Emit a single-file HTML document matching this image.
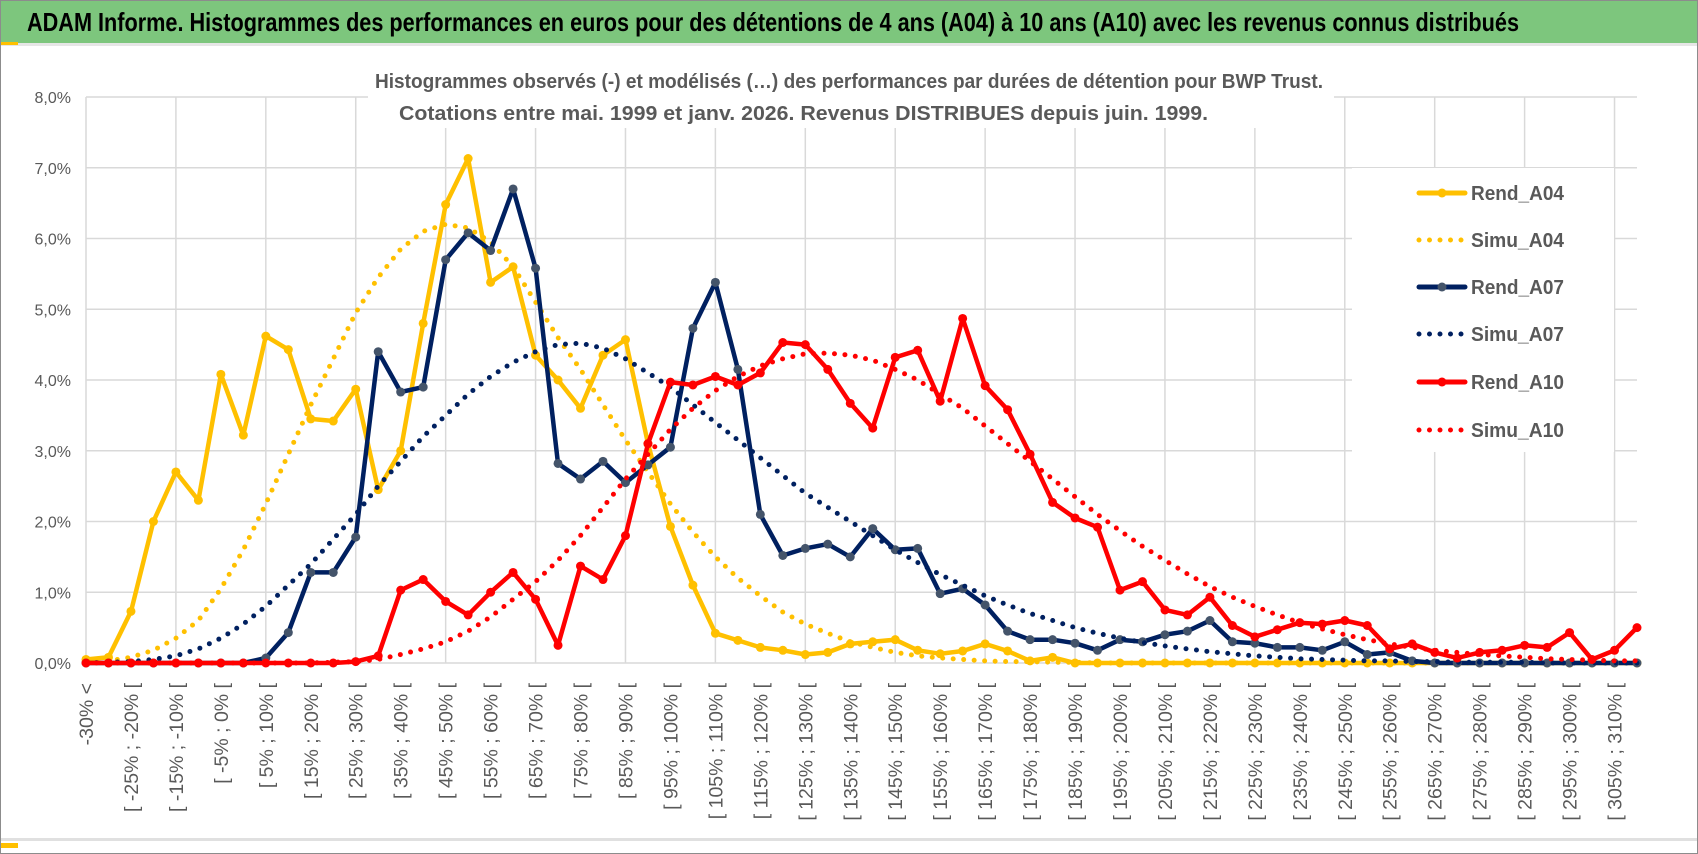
<!DOCTYPE html>
<html><head><meta charset="utf-8"><style>
html,body{margin:0;padding:0;background:#fff;}
svg{display:block;font-family:"Liberation Sans Narrow","Liberation Sans",sans-serif;}
</style></head><body>
<svg id="chart" width="1698" height="854" viewBox="0 0 1698 854" xmlns="http://www.w3.org/2000/svg">
<rect x="0.5" y="0.5" width="1697" height="853" fill="#fff" stroke="#8c8c8c"/>
<rect x="1" y="1" width="1696" height="42" fill="#7dc67d"/>
<rect x="1" y="43" width="1696" height="3" fill="#e6e6e6"/>
<rect x="1" y="42" width="17" height="3" fill="#ffc000"/>
<text x="27" y="31" font-size="26" font-weight="bold" fill="#000" textLength="1492" lengthAdjust="spacingAndGlyphs">ADAM Informe. Histogrammes des performances en euros pour des détentions de 4 ans (A04) à 10 ans (A10) avec les revenus connus distribués</text>
<g id="grid"></g>
<rect x="368" y="62" width="966" height="66" fill="#fff"/>
<text x="375" y="88" font-size="20" font-weight="bold" fill="#595959" textLength="948" lengthAdjust="spacingAndGlyphs">Histogrammes observés (-) et modélisés (…) des performances par durées de détention pour BWP Trust.</text>
<text x="399" y="120" font-size="20" font-weight="bold" fill="#595959" textLength="809" lengthAdjust="spacingAndGlyphs">Cotations entre mai. 1999 et janv. 2026. Revenus DISTRIBUES depuis juin. 1999.</text>
<g id="ylabels"></g>
<g id="xlabels"></g>
<g id="series"></g>
<g id="legend"></g>
<rect x="1" y="838" width="1696" height="3" fill="#e0e0e0"/>
<rect x="1" y="843" width="17" height="5" fill="#ffc000"/>
</svg>
<script>
const categories = ["-30% <","[ -30% ; -25% [","[ -25% ; -20% [","[ -20% ; -15% [","[ -15% ; -10% [","[ -10% ; -5% [","[ -5% ; 0% [","[ 0% ; 5% [","[ 5% ; 10% [","[ 10% ; 15% [","[ 15% ; 20% [","[ 20% ; 25% [","[ 25% ; 30% [","[ 30% ; 35% [","[ 35% ; 40% [","[ 40% ; 45% [","[ 45% ; 50% [","[ 50% ; 55% [","[ 55% ; 60% [","[ 60% ; 65% [","[ 65% ; 70% [","[ 70% ; 75% [","[ 75% ; 80% [","[ 80% ; 85% [","[ 85% ; 90% [","[ 90% ; 95% [","[ 95% ; 100% [","[ 100% ; 105% [","[ 105% ; 110% [","[ 110% ; 115% [","[ 115% ; 120% [","[ 120% ; 125% [","[ 125% ; 130% [","[ 130% ; 135% [","[ 135% ; 140% [","[ 140% ; 145% [","[ 145% ; 150% [","[ 150% ; 155% [","[ 155% ; 160% [","[ 160% ; 165% [","[ 165% ; 170% [","[ 170% ; 175% [","[ 175% ; 180% [","[ 180% ; 185% [","[ 185% ; 190% [","[ 190% ; 195% [","[ 195% ; 200% [","[ 200% ; 205% [","[ 205% ; 210% [","[ 210% ; 215% [","[ 215% ; 220% [","[ 220% ; 225% [","[ 225% ; 230% [","[ 230% ; 235% [","[ 235% ; 240% [","[ 240% ; 245% [","[ 245% ; 250% [","[ 250% ; 255% [","[ 255% ; 260% [","[ 260% ; 265% [","[ 265% ; 270% [","[ 270% ; 275% [","[ 275% ; 280% [","[ 280% ; 285% [","[ 285% ; 290% [","[ 290% ; 295% [","[ 295% ; 300% [","[ 300% ; 305% [","[ 305% ; 310% [","[ 310% ; 315% ["];
const yTicks = [0,1,2,3,4,5,6,7,8];
const yTickLabels = ["0,0%","1,0%","2,0%","3,0%","4,0%","5,0%","6,0%","7,0%","8,0%"];
const rendA04 = [0.05,0.08,0.73,2.0,2.7,2.3,4.08,3.22,4.62,4.43,3.45,3.42,3.87,2.45,3.0,4.8,6.48,7.13,5.38,5.6,4.35,4.0,3.6,4.35,4.57,3.1,1.93,1.1,0.42,0.32,0.22,0.18,0.12,0.15,0.27,0.3,0.33,0.18,0.13,0.17,0.27,0.17,0.03,0.08,0,0,0,0,0,0,0,0,0,0,0,0,0,0,0,0,0,0,0,0,0,0,0,0,0,0];
const simuA04 = [0.01,0.03,0.08,0.18,0.35,0.6,1.05,1.6,2.25,2.95,3.65,4.3,4.95,5.45,5.85,6.1,6.2,6.15,5.95,5.6,5.1,4.6,4.15,3.65,3.15,2.7,2.25,1.85,1.5,1.2,0.95,0.72,0.55,0.42,0.3,0.22,0.15,0.1,0.07,0.05,0.03,0.02,0.02,0.01,0.01,0,0,0,0,0,0,0,0,0,0,0,0,0,0,0,0,0,0,0,0,0,0,0,0,0];
const rendA07 = [0,0,0,0,0,0,0,0,0.07,0.43,1.28,1.28,1.78,4.4,3.83,3.9,5.7,6.08,5.83,6.7,5.58,2.82,2.6,2.85,2.55,2.8,3.05,4.73,5.38,4.15,2.1,1.52,1.62,1.68,1.5,1.9,1.6,1.62,0.98,1.05,0.82,0.45,0.33,0.33,0.28,0.18,0.33,0.3,0.4,0.45,0.6,0.3,0.28,0.22,0.22,0.18,0.3,0.12,0.15,0.03,0,0,0,0,0,0,0,0,0,0];
const simuA07 = [0,0.01,0.02,0.05,0.1,0.2,0.35,0.55,0.8,1.1,1.4,1.75,2.1,2.5,2.85,3.2,3.5,3.8,4.05,4.25,4.4,4.5,4.52,4.45,4.3,4.1,3.9,3.65,3.4,3.15,2.9,2.65,2.4,2.2,2.0,1.8,1.6,1.42,1.25,1.1,0.95,0.82,0.7,0.6,0.5,0.42,0.35,0.29,0.24,0.2,0.16,0.13,0.1,0.08,0.06,0.05,0.04,0.03,0.03,0.02,0.02,0.01,0.01,0.01,0.01,0,0,0,0,0];
const rendA10 = [0,0,0,0,0,0,0,0,0,0,0,0,0.02,0.1,1.03,1.18,0.87,0.68,1.0,1.28,0.9,0.25,1.37,1.18,1.8,3.1,3.97,3.93,4.05,3.93,4.1,4.53,4.5,4.15,3.67,3.32,4.32,4.42,3.7,4.87,3.92,3.58,2.95,2.27,2.05,1.92,1.03,1.15,0.75,0.68,0.93,0.53,0.37,0.47,0.57,0.55,0.6,0.53,0.2,0.27,0.15,0.07,0.15,0.18,0.25,0.22,0.43,0.05,0.18,0.5];
const simuA10 = [0,0,0,0,0,0,0,0,0,0,0,0.01,0.02,0.05,0.12,0.2,0.3,0.45,0.65,0.9,1.15,1.45,1.8,2.2,2.6,2.95,3.3,3.6,3.85,4.05,4.2,4.3,4.37,4.38,4.35,4.28,4.15,4.0,3.8,3.6,3.35,3.1,2.85,2.6,2.35,2.1,1.87,1.65,1.45,1.26,1.08,0.93,0.8,0.68,0.57,0.48,0.4,0.33,0.27,0.22,0.18,0.15,0.12,0.1,0.08,0.06,0.05,0.04,0.03,0.03];
const seriesNames = ["Rend_A04","Simu_A04","Rend_A07","Simu_A07","Rend_A10","Simu_A10"];

const NS = "http://www.w3.org/2000/svg";
const X0 = 86, X1 = 1637, Y0 = 663, Y8 = 97;
function xScale(i){ return X0 + i * (X1 - X0) / (categories.length - 1); }
function yScale(v){ return Y0 - v * (Y0 - Y8) / 8; }
function mk(tag, attrs, parent){ const e = document.createElementNS(NS, tag); for (const k in attrs) e.setAttribute(k, attrs[k]); parent.appendChild(e); return e; }

const grid = document.getElementById('grid');
yTicks.forEach(function(t){
  const l = mk('line', {x1:X0, x2:X1, y1:yScale(t), y2:yScale(t), stroke:'#d9d9d9', 'stroke-width':1.5}, grid);
  
  
});
for (let i = 0; i < categories.length; i += 4) {
  const l = mk('line', {x1:xScale(i), x2:xScale(i), y1:Y8, y2:Y0, stroke:'#d9d9d9', 'stroke-width':1.5}, grid);
  
  
}
const yl = document.getElementById('ylabels');
yTicks.forEach(function(t, k){
  const tx = mk('text', {x:71, y:yScale(t)+6, 'text-anchor':'end', 'font-size':16, fill:'#595959'}, yl);
  tx.textContent = yTickLabels[k];
  
  
});
const xl = document.getElementById('xlabels');
for (let i = 0; i < categories.length; i += 2) {
  const x = xScale(i) + 7, y = 683;
  const tx = mk('text', {x:x, y:y, 'text-anchor':'end', 'font-size':19.5, fill:'#595959', transform:'rotate(-90 '+x+' '+y+')'}, xl);
  tx.textContent = categories[i];
  
  
}

const lg = document.getElementById('legend');
const lbg = mk('rect', {x:1352, y:168, width:262, height:284, fill:'#fff'}, lg);



const ser = document.getElementById('series');
const defs = [
  {data:rendA04, color:'#ffc000', dotted:false, marker:'#ffc000', name:'rend-a04-line'},
  {data:simuA04, color:'#ffc000', dotted:true, name:'simu-a04-line'},
  {data:rendA07, color:'#002060', dotted:false, marker:'#44546a', name:'rend-a07-line'},
  {data:simuA07, color:'#002060', dotted:true, name:'simu-a07-line'},
  {data:rendA10, color:'#ff0000', dotted:false, marker:'#ff0000', name:'rend-a10-line'},
  {data:simuA10, color:'#ff0000', dotted:true, name:'simu-a10-line'}
];
defs.forEach(function(d){
  const pts = d.data.map(function(v, i){ return xScale(i).toFixed(1) + ',' + yScale(v).toFixed(1); }).join(' ');
  const attrs = {points:pts, fill:'none', stroke:d.color, 'stroke-width': d.dotted ? 5 : 4.5, 'stroke-linejoin':'round', 'stroke-linecap':'round'};
  if (d.dotted) attrs['stroke-dasharray'] = '0 10.5';
  const pl = mk('polyline', attrs, ser);
  
  
  if (!d.dotted) {
    d.data.forEach(function(v, i){
      const c = mk('circle', {cx:xScale(i), cy:yScale(v), r:4.5, fill:d.marker}, ser);
      
      
    });
  }
});

const legendY = [193, 240, 287, 334, 382, 430];
defs.forEach(function(d, k){
  const y = legendY[k];
  const attrs = {x1:1419, x2:1465, y1:y, y2:y, stroke:d.color, 'stroke-width':5, 'stroke-linecap':'round'};
  if (d.dotted) attrs['stroke-dasharray'] = '0 10.5';
  const ln = mk('line', attrs, lg);
  
  
  if (!d.dotted) {
    const c = mk('circle', {cx:1442, cy:y, r:4.5, fill:d.marker}, lg);
    
    
  }
  const tx = mk('text', {x:1471, y:y+7, 'font-size':20, 'font-weight':'bold', fill:'#595959', textLength:93, lengthAdjust:'spacingAndGlyphs'}, lg);
  tx.textContent = seriesNames[k];
  
  
});
</script>
</body></html>
